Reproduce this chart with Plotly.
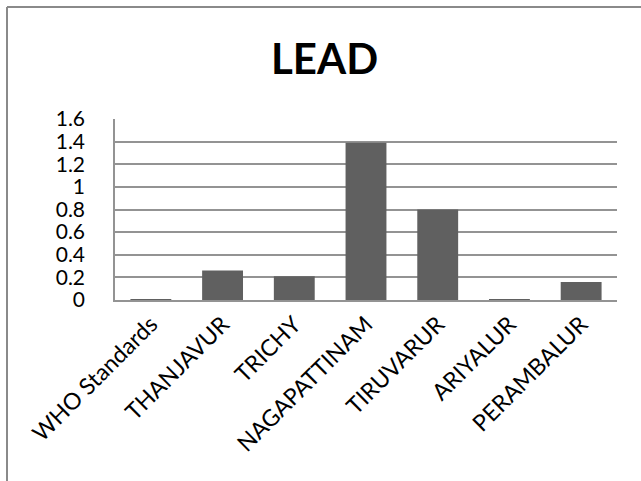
import plotly.graph_objects as go

# Lead concentration by district
districts = ["WHO Standards", "THANJAVUR", "TRICHY", "NAGAPATTINAM",
             "TIRUVARUR", "ARIYALUR", "PERAMBALUR"]
lead = [0.005, 0.26, 0.21, 1.39, 0.80, 0.005, 0.16]
y_ticks = [0, 0.2, 0.4, 0.6, 0.8, 1, 1.2, 1.4, 1.6]
y_tick_text = ["0", "0.2", "0.4", "0.6", "0.8", "1", "1.2", "1.4", "1.6"]

W, H = 641, 481
L, R, T, B = 115, 24, 119, 181

fig = go.Figure(go.Bar(
    x=districts, y=lead,
    marker=dict(color="#606060", line=dict(width=0)),
))

font_family = "Lato, Calibri, Carlito, sans-serif"

fig.update_layout(
    width=W, height=H,
    margin=dict(l=L, r=R, t=T, b=B, pad=0),
    paper_bgcolor="white", plot_bgcolor="white",
    bargap=0.43,
    showlegend=False,
    font=dict(family=font_family, color="black", size=20),
    annotations=[dict(
        text="<b>LEAD</b>", xref="paper", yref="paper",
        x=0.418, y=1.337, xanchor="center", yanchor="middle",
        showarrow=False, font=dict(size=42, family=font_family, color="black"),
    )],
    shapes=[
        # chart frame (top and left edges)
        dict(type="line", xref="paper", yref="paper",
             x0=(7 - L) / 502, x1=1.06, y0=(300 - 7) / 181, y1=(300 - 7) / 181,
             line=dict(color="#8a8a8a", width=2)),
        dict(type="line", xref="paper", yref="paper",
             x0=(7 - L) / 502, x1=(7 - L) / 502, y0=(300 - 7) / 181, y1=-1.05,
             line=dict(color="#8a8a8a", width=2)),
    ],
)

fig.update_yaxes(
    range=[0, 1.6], tickvals=y_ticks, ticktext=y_tick_text,
    showgrid=True, gridcolor="#939393", gridwidth=1.5,
    showline=True, linecolor="#939393", linewidth=1.5,
    zeroline=False, ticks="", ticklabelstandoff=24,
    tickfont=dict(size=21),
)
fig.update_xaxes(
    tickangle=-45, showline=True, linecolor="#939393", linewidth=1.5,
    ticks="", showgrid=False, tickfont=dict(size=23),
)

fig.write_html("out.html")
